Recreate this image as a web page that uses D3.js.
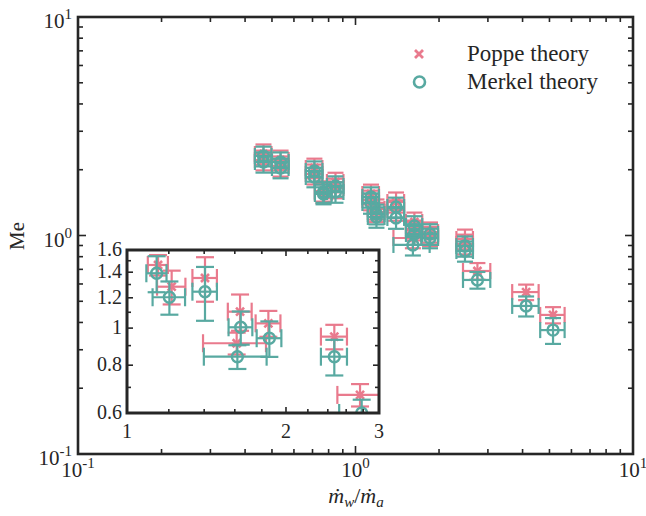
<!DOCTYPE html>
<html><head><meta charset="utf-8">
<script src="https://cdn.jsdelivr.net/npm/d3@7"></script>
<style>
body{margin:0;background:#fff}
svg{display:block}
text{font-family:"Liberation Serif","Times New Roman",serif;fill:#262626}
</style>
</head><body>
<svg id="c" width="646" height="516"></svg>
<script>
// ---------- data ----------
const seriesNames = ["Poppe theory", "Merkel theory"];
const seriesColors = ["#E97A8D", "#58A9A1"];

// main plot, Poppe theory
const poppeX    = [0.466,0.466,0.537,0.537,0.711,0.711,0.767,0.767,0.847,0.847,1.137,1.137,1.19,1.19,1.40,1.40,1.63,1.63,1.61,1.856,1.856,2.48,2.48,2.75,4.12,5.15];
const poppeY    = [2.360,2.216,2.216,2.080,2.037,1.912,1.599,1.565,1.757,1.650,1.549,1.454,1.322,1.281,1.423,1.308,1.153,1.060,0.974,1.037,0.995,0.964,0.914,0.688,0.551,0.433];
const poppeXErr = [0.032,0.032,0.037,0.037,0.049,0.049,0.053,0.053,0.058,0.058,0.078,0.078,0.082,0.082,0.097,0.097,0.11,0.11,0.24,0.128,0.128,0.17,0.17,0.31,0.45,0.52];
const poppeYErr = [0.25,0.23,0.23,0.22,0.21,0.20,0.17,0.16,0.18,0.17,0.16,0.15,0.14,0.13,0.15,0.14,0.12,0.11,0.10,0.11,0.10,0.10,0.095,0.06,0.045,0.037];

// main plot, Merkel theory
const merkelX    = [0.466,0.466,0.537,0.537,0.711,0.711,0.767,0.767,0.847,0.847,1.137,1.137,1.19,1.19,1.40,1.40,1.63,1.63,1.61,1.856,1.856,2.48,2.48,2.75,4.12,5.15];
const merkelY    = [2.311,2.170,2.170,2.037,1.973,1.852,1.582,1.549,1.685,1.582,1.501,1.408,1.254,1.215,1.350,1.203,1.105,1.016,0.905,1.016,0.974,0.895,0.849,0.626,0.476,0.369];
const merkelXErr = [0.032,0.032,0.037,0.037,0.049,0.049,0.053,0.053,0.058,0.058,0.078,0.078,0.082,0.082,0.097,0.097,0.11,0.11,0.24,0.128,0.128,0.17,0.17,0.31,0.45,0.52];
const merkelYErr = [0.24,0.23,0.23,0.21,0.21,0.19,0.17,0.16,0.18,0.17,0.16,0.15,0.13,0.13,0.14,0.13,0.12,0.11,0.095,0.11,0.10,0.095,0.09,0.055,0.05,0.05];

// inset, Poppe theory
const insetPoppeX    = [1.145,1.215,1.405,1.637,1.613,1.852,2.469,2.762];
const insetPoppeY    = [1.462,1.283,1.352,1.104,0.913,1.029,0.950,0.669];
const insetPoppeXErr = [0.05,0.075,0.075,0.085,0.22,0.10,0.14,0.26];
const insetPoppeYErr = [0.09,0.13,0.18,0.12,0.06,0.08,0.07,0.045];

// inset, Merkel theory
const insetMerkelX    = [1.138,1.203,1.405,1.642,1.618,1.860,2.469,2.782];
const insetMerkelY    = [1.391,1.204,1.245,1.005,0.842,0.941,0.842,0.600];
const insetMerkelXErr = [0.05,0.085,0.075,0.085,0.22,0.10,0.14,0.26];
const insetMerkelYErr = [0.15,0.12,0.20,0.10,0.06,0.10,0.09,0.05];

const mainTicks = [0.1, 1, 10];
const mainTickExp = ["-1", "0", "1"];
const insetXTicks = [1, 2, 3];
const insetYTicks = [0.6, 0.8, 1, 1.2, 1.4, 1.6];
const insetYTickLabels = ["0.6", "0.8", "1", "1.2", "1.4", "1.6"];
const xLabel = ["ṁ", "w", "/", "ṁ", "a"];
const yLabel = "Me";

// ---------- drawing ----------
const svg = d3.select("#c");
const axisColor = "#262626";

const L = 78, R = 633, T = 17, B = 454;
const x = d3.scaleLog().domain([0.1, 10]).range([L, R]);
const y = d3.scaleLog().domain([0.1, 10]).range([B, T]);

function zip(xs, ys, xe, ye){ return xs.map((v,i)=>({x:v,y:ys[i],xe:xe[i],ye:ye[i]})); }

function drawSeries(g, data, sx, sy, color, kind, cap){
  const gg = g.append("g").attr("stroke", color).attr("fill","none").attr("stroke-width", 2.2);
  data.forEach(d=>{
    const cx = sx(d.x), cy = sy(d.y);
    const y1 = sy(d.y + d.ye), y0 = sy(Math.max(d.y - d.ye, 1e-6));
    const x0 = sx(Math.max(d.x - d.xe, 1e-6)), x1 = sx(d.x + d.xe);
    gg.append("line").attr("x1",cx).attr("x2",cx).attr("y1",y0).attr("y2",y1);
    gg.append("line").attr("x1",cx-cap).attr("x2",cx+cap).attr("y1",y0).attr("y2",y0);
    gg.append("line").attr("x1",cx-cap).attr("x2",cx+cap).attr("y1",y1).attr("y2",y1);
    gg.append("line").attr("x1",x0).attr("x2",x1).attr("y1",cy).attr("y2",cy);
    gg.append("line").attr("x1",x0).attr("x2",x0).attr("y1",cy-cap).attr("y2",cy+cap);
    gg.append("line").attr("x1",x1).attr("x2",x1).attr("y1",cy-cap).attr("y2",cy+cap);
  });
  data.forEach(d=>{
    const cx = sx(d.x), cy = sy(d.y);
    if(kind === "x"){
      const s = 4;
      gg.append("path").attr("d",`M${cx-s},${cy-s}L${cx+s},${cy+s}M${cx-s},${cy+s}L${cx+s},${cy-s}`).attr("stroke-width",2.6);
    } else {
      gg.append("circle").attr("cx",cx).attr("cy",cy).attr("r",5.5).attr("stroke-width",2.4);
    }
  });
}

const plot = svg.append("g");
drawSeries(plot, zip(poppeX,poppeY,poppeXErr,poppeYErr), x, y, seriesColors[0], "x", 8);
drawSeries(plot, zip(merkelX,merkelY,merkelXErr,merkelYErr), x, y, seriesColors[1], "o", 8);

// main axes ticks
function logMinor(lo, hi){
  const out=[];
  for(let p=lo;p<hi;p++) for(let k=2;k<=9;k++) out.push(k*Math.pow(10,p));
  return out;
}
const minor = logMinor(-1, 1);
const tg = svg.append("g").attr("stroke", axisColor).attr("stroke-width", 1.6);
[[minor,5],[mainTicks,8]].forEach(([vals,len])=>{
  vals.forEach(v=>{
    const px = x(v), py = y(v);
    tg.append("line").attr("x1",px).attr("x2",px).attr("y1",B).attr("y2",B-len);
    tg.append("line").attr("x1",px).attr("x2",px).attr("y1",T).attr("y2",T+len);
    tg.append("line").attr("x1",L).attr("x2",L+len).attr("y1",py).attr("y2",py);
    tg.append("line").attr("x1",R).attr("x2",R-len).attr("y1",py).attr("y2",py);
  });
});
svg.append("rect").attr("x",L).attr("y",T).attr("width",R-L).attr("height",B-T)
  .attr("fill","none").attr("stroke",axisColor).attr("stroke-width",2.6);

function powLabel(g, px, py, exp, anchor){
  const t = g.append("text").attr("x",px).attr("y",py).attr("text-anchor",anchor).attr("font-size",21);
  t.append("tspan").text("10");
  t.append("tspan").attr("dy",-9).attr("font-size",15).text(exp);
  return t;
}
mainTicks.forEach((v,i)=>{
  powLabel(svg, x(v), 477, mainTickExp[i], "middle");
  powLabel(svg, 72, y(v)+11, mainTickExp[i], "end");
});

// axis labels
const xl = svg.append("text").attr("x",356).attr("y",503).attr("text-anchor","middle").attr("font-size",22).attr("font-style","italic");
xl.append("tspan").text(xLabel[0]);
xl.append("tspan").attr("dy",4).attr("font-size",15).text(xLabel[1]);
xl.append("tspan").attr("dy",-4).attr("font-style","normal").text(xLabel[2]);
xl.append("tspan").text(xLabel[3]);
xl.append("tspan").attr("dy",4).attr("font-size",15).text(xLabel[4]);

svg.append("text").attr("transform","translate(24,236) rotate(-90)").attr("text-anchor","middle")
  .attr("font-size",21).text(yLabel);

// legend
const lg = svg.append("g");
lg.append("path").attr("d","M415,50L423,58M415,58L423,50").attr("stroke",seriesColors[0]).attr("stroke-width",2.8).attr("fill","none");
lg.append("circle").attr("cx",419.5).attr("cy",82).attr("r",5.5).attr("stroke",seriesColors[1]).attr("stroke-width",2.6).attr("fill","none");
lg.append("text").attr("x",467).attr("y",61).attr("font-size",23).text(seriesNames[0]);
lg.append("text").attr("x",467).attr("y",89).attr("font-size",23).text(seriesNames[1]);

// ---------- inset ----------
const iL = 127, iR = 379, iT = 250, iB = 413;
const xi = d3.scaleLog().domain([1,3]).range([iL,iR]);
const yi = d3.scaleLog().domain([0.6,1.6]).range([iB,iT]);
svg.append("rect").attr("x",iL).attr("y",iT).attr("width",iR-iL).attr("height",iB-iT).attr("fill","#fff");
svg.append("clipPath").attr("id","ic").append("rect").attr("x",iL).attr("y",iT).attr("width",iR-iL).attr("height",iB-iT);
const ig = svg.append("g").attr("clip-path","url(#ic)");
drawSeries(ig, zip(insetPoppeX,insetPoppeY,insetPoppeXErr,insetPoppeYErr), xi, yi, seriesColors[0], "x", 9);
drawSeries(ig, zip(insetMerkelX,insetMerkelY,insetMerkelXErr,insetMerkelYErr), xi, yi, seriesColors[1], "o", 9);

const itg = svg.append("g").attr("stroke",axisColor).attr("stroke-width",1.6);
const ixMinor = [1.2,1.4,1.6,1.8,2.2,2.4,2.6,2.8];
const iyMinor = [0.7,0.9,1.1,1.3,1.5];
[[ixMinor,4],[insetXTicks,6]].forEach(([vals,len])=>vals.forEach(v=>{
  const px=xi(v);
  itg.append("line").attr("x1",px).attr("x2",px).attr("y1",iB).attr("y2",iB-len);
  itg.append("line").attr("x1",px).attr("x2",px).attr("y1",iT).attr("y2",iT+len);
}));
[[iyMinor,4],[insetYTicks,6]].forEach(([vals,len])=>vals.forEach(v=>{
  const py=yi(v);
  itg.append("line").attr("x1",iL).attr("x2",iL+len).attr("y1",py).attr("y2",py);
  itg.append("line").attr("x1",iR).attr("x2",iR-len).attr("y1",py).attr("y2",py);
}));
svg.append("rect").attr("x",iL).attr("y",iT).attr("width",iR-iL).attr("height",iB-iT)
  .attr("fill","none").attr("stroke",axisColor).attr("stroke-width",3);
insetXTicks.forEach(v=>{
  svg.append("text").attr("x",xi(v)).attr("y",438).attr("text-anchor","middle").attr("font-size",20).text(String(v));
});
insetYTicks.forEach((v,i)=>{
  svg.append("text").attr("x",122).attr("y",yi(v)+6).attr("text-anchor","end").attr("font-size",20).text(insetYTickLabels[i]);
});
</script>
</body></html>
